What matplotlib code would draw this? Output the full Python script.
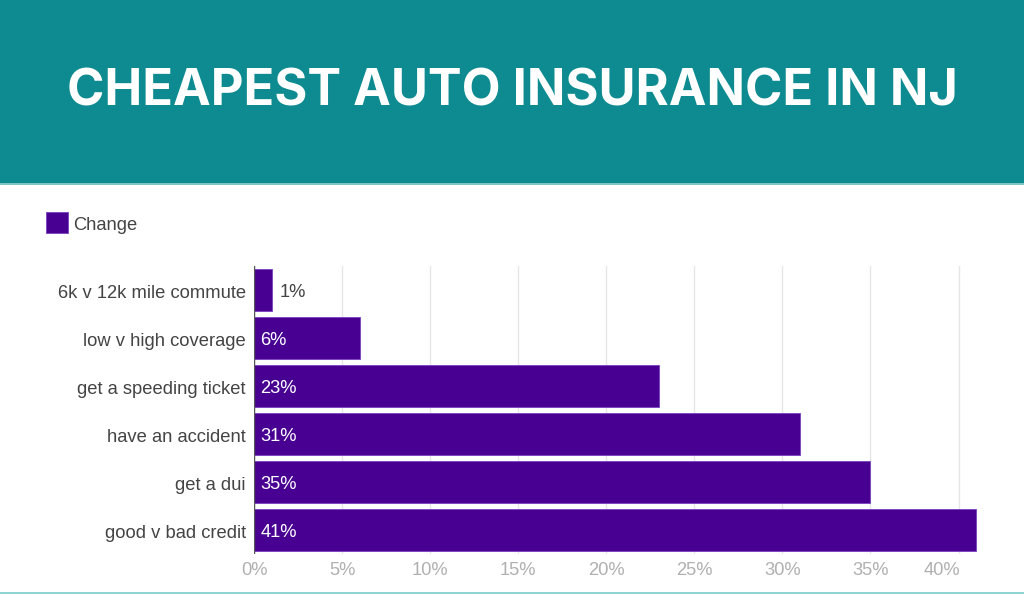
import matplotlib.pyplot as plt
from matplotlib.patches import Rectangle
from matplotlib.transforms import ScaledTranslation

# Data
categories = ["6k v 12k mile commute", "low v high coverage", "get a speeding ticket",
              "have an accident", "get a dui", "good v bad credit"]
change = [1, 6, 23, 31, 35, 41]
xticks = [0, 5, 10, 15, 20, 25, 30, 35, 40]
tick_labels = ["0%", "5%", "10%", "15%", "20%", "25%", "30%", "35%", "40%"]

teal = "#0e8b91"
purple = "#470092"
label_color = "#444444"
W, H = 1024, 595

fig = plt.figure(figsize=(W / 100, H / 100), dpi=100)
fig.patch.set_facecolor("white")

# Header band and title
fig.add_artist(Rectangle((0, 1 - 183 / H), 1, 183 / H, transform=fig.transFigure,
                         facecolor=teal, edgecolor="none"))
fig.add_artist(Rectangle((0, 1 - 185 / H), 1, 2 / H, transform=fig.transFigure,
                         facecolor="#7cc6c8", edgecolor="none"))
fig.text(512.5 / W, 1 - 92 / H, "CHEAPEST AUTO INSURANCE IN NJ", color="white",
         fontsize=36.4, fontweight="bold", family="Inter", ha="center", va="center")
# bottom thin line
fig.add_artist(Rectangle((0, 1 / H), 1, 2 / H, transform=fig.transFigure,
                         facecolor="#8fd3d3", edgecolor="none"))

# Legend
fig.add_artist(Rectangle((46 / W, 1 - 233 / H), 22 / W, 21 / H, transform=fig.transFigure,
                         facecolor=purple, edgecolor="#7a40c0", linewidth=0.6))
fig.text(73 / W, 1 - 225 / H, "Change", color=label_color, fontsize=13.2,
         family="Liberation Sans", va="center", ha="left")

# Plot area
left, right = 254, 977
top, bottom = 266, 554
ax = fig.add_axes([left / W, 1 - bottom / H, (right - left) / W, (bottom - top) / H])
ypos = list(range(len(categories)))
ax.barh(ypos, change, height=0.855, color=purple, edgecolor="#7a40c0", linewidth=0.6, zorder=3)
ax.set_xlim(0, 41.05)
ax.set_ylim(len(categories) - 0.5, -0.5)

ax.set_yticks(ypos)
ax.set_yticklabels(categories, fontsize=13.2, color=label_color, family="Liberation Sans")
ax.set_xticks(xticks)
ax.set_xticklabels(tick_labels, fontsize=13.2, color="#b0b0b0", family="Liberation Sans")
ax.tick_params(axis="x", length=0, pad=6)
ax.tick_params(axis="y", length=0, pad=6)
# shift y labels down slightly to sit on bar centres
for t in ax.get_yticklabels():
    t.set_transform(t.get_transform() + ScaledTranslation(0, -0.015, fig.dpi_scale_trans))
# last tick label is nudged left in the original
last = ax.get_xticklabels()[-1]
last.set_transform(last.get_transform() + ScaledTranslation(-0.17, 0, fig.dpi_scale_trans))
ax.xaxis.grid(True, color="#e6e6e6", linewidth=1, zorder=0)
for s in ax.spines.values():
    s.set_visible(False)
ax.axvline(0, color="#555555", linewidth=1.0, zorder=4)

for y, v in zip(ypos, change):
    if v < 3:
        ax.text(v + 0.45, y + 0.05, f"{v}%", color=label_color, fontsize=13.2,
                family="Liberation Sans", va="center", ha="left")
    else:
        ax.text(0.35, y + 0.05, f"{v}%", color="white", fontsize=13.2,
                family="Liberation Sans", va="center", ha="left", zorder=5)

fig.savefig("out.png", dpi=100)
